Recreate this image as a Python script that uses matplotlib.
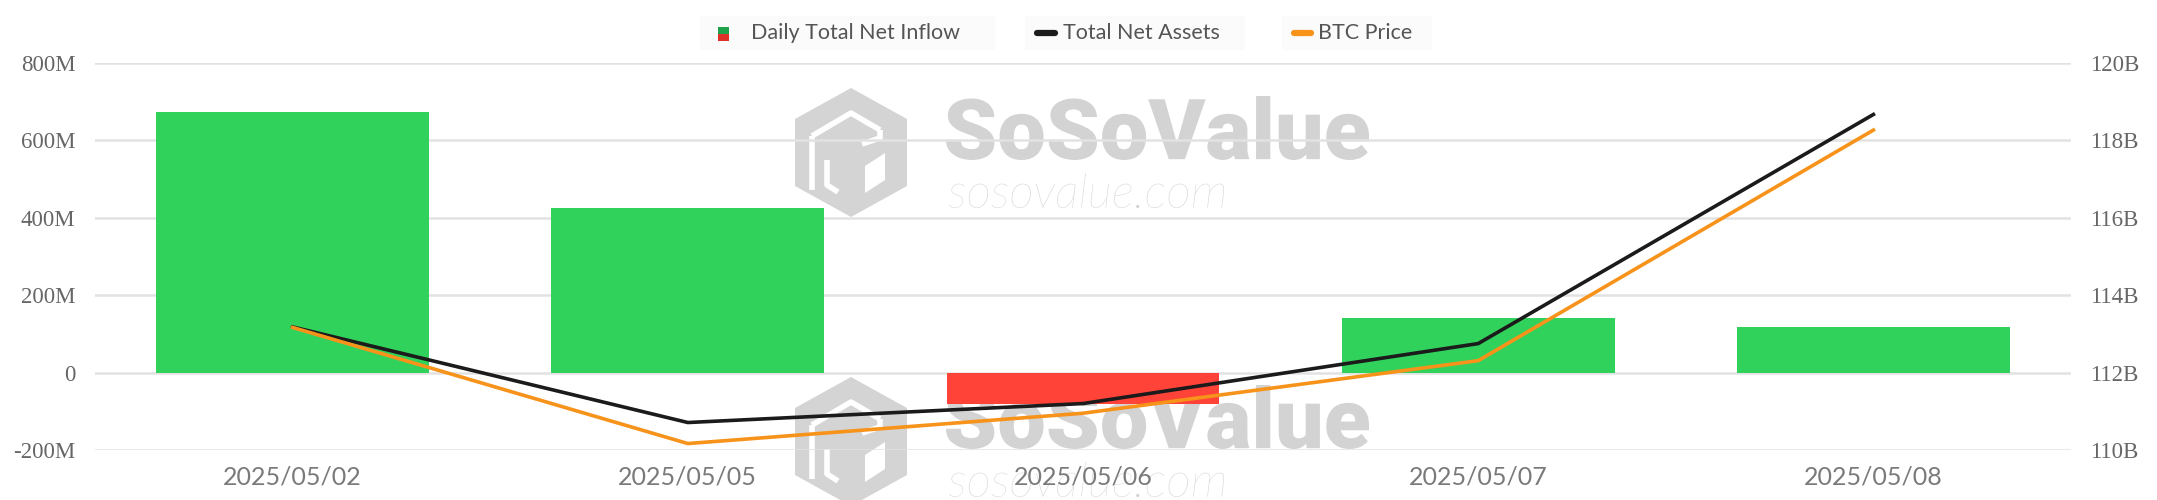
import numpy as np
import matplotlib
matplotlib.use('Agg')
import matplotlib.pyplot as plt
from matplotlib.textpath import TextPath
from matplotlib.font_manager import FontProperties
from matplotlib.patches import PathPatch, Polygon, Rectangle
from matplotlib.transforms import Affine2D
from matplotlib.ticker import FuncFormatter

# data
dates = ['2025/05/02', '2025/05/05', '2025/05/06', '2025/05/07', '2025/05/08']
net_inflow_m = [674, 425, -81, 142, 117]          # USD millions
total_assets_b = [113.18, 110.71, 111.20, 112.75, 118.67]  # USD billions
btc_price = [96800, 93200, 94140, 95770, 102920]   # USD, hidden axis

left_ticks = [-200, 0, 200, 400, 600, 800]
right_ticks = [110, 112, 114, 116, 118, 120]

GREEN = '#31d25c'
RED = '#ff4338'
BLACK = '#1b1b1b'
ORANGE = '#f7931a'
GRID = '#e2e2e2'
W, H = 2157, 500


def fit_text(axb, s, x0, x1, ytop, ybot, prop, color):
    # stretch a text path into a pixel box (y axis of axb points down)
    tp = TextPath((0, 0), s, prop=prop, size=100)
    bb = tp.get_extents()
    sx = (x1 - x0) / bb.width
    sy = (ybot - ytop) / bb.height
    tr = Affine2D().translate(-bb.x0, -bb.y0).scale(sx, -sy).translate(x0, ybot)
    axb.add_patch(PathPatch(tr.transform_path(tp), fc=color, ec='none', zorder=1))


def draw_watermark(axb, dy):
    # hexagon logo
    hexa = [(851, 88), (907, 119), (907, 186), (851, 217), (795, 186), (795, 119)]
    axb.add_patch(Polygon([(x, y + dy) for x, y in hexa], closed=True,
                          fc='#d4d4d4', ec='none', zorder=1))
    # rough inner strokes of the logo
    strokes = [
        [(812, 136), (851, 113), (880, 130)],
        [(880, 130), (880, 138), (862, 144)],
        [(812, 136), (812, 190)],
        [(827, 160), (827, 185), (838, 192)],
    ]
    for st in strokes:
        xs, ys = zip(*st)
        axb.plot(xs, [y + dy for y in ys], color='white', lw=4,
                 solid_capstyle='butt', zorder=1.5)
    axb.add_patch(Polygon([(865, 166 + dy), (885, 153 + dy), (885, 180 + dy), (865, 193 + dy)],
                          closed=True, fc='white', ec='none', zorder=1.5))
    fit_text(axb, 'SoSoValue', 946, 1369, 96 + dy, 160 + dy,
             FontProperties(family='Roboto', weight='black'), '#d3d3d3')
    fit_text(axb, 'sosovalue.com', 949, 1224, 173 + dy, 208 + dy,
             FontProperties(family='Lato', style='italic', weight='light'), '#d0d0d0')


fig = plt.figure(figsize=(W / 100, H / 100), dpi=100)
fig.patch.set_facecolor('white')

# background layer in pixel coordinates: watermark and legend
axb = fig.add_axes([0, 0, 1, 1], zorder=0)
axb.set_xlim(0, W)
axb.set_ylim(H, 0)
axb.axis('off')
draw_watermark(axb, 0)
draw_watermark(axb, 289)

# legend drawn by hand
for x0, x1 in [(700, 995), (1025, 1245), (1282, 1432)]:
    axb.add_patch(Rectangle((x0, 16), x1 - x0, 34, fc='#fbfbfb', ec='none', zorder=1))
axb.add_patch(Rectangle((718, 27), 11, 7, fc='#1fa34a', ec='none', zorder=2))
axb.add_patch(Rectangle((718, 34), 11, 7, fc='#e0302a', ec='none', zorder=2))
axb.plot([1037, 1055], [33, 33], color=BLACK, lw=4.5, solid_capstyle='round', zorder=2)
axb.plot([1294, 1311], [33, 33], color=ORANGE, lw=4.5, solid_capstyle='round', zorder=2)
leg_font = dict(family='Lato', fontsize=15.5, color='#555555', va='center', ha='left', zorder=3)
axb.text(751, 33, 'Daily Total Net Inflow', **leg_font)
axb.text(1063, 33, 'Total Net Assets', **leg_font)
axb.text(1318, 33, 'BTC Price', **leg_font)

# main axes
ax = fig.add_axes([95 / W, 50 / H, (2071 - 95) / W, (450 - 63) / H], zorder=1)
ax.patch.set_alpha(0)
x = np.arange(len(dates))
colors = [GREEN if v >= 0 else RED for v in net_inflow_m]
ax.bar(x, net_inflow_m, width=0.69, color=colors, zorder=3)
ax.set_xlim(-0.5, len(dates) - 0.5)
ax.set_ylim(-200, 800)
ax.set_yticks(left_ticks)
ax.yaxis.set_major_formatter(FuncFormatter(lambda v, p: '0' if v == 0 else f'{int(v)}M'))
ax.set_xticks(x)
ax.set_xticklabels(dates)
ax.grid(axis='y', color=GRID, lw=1.8, zorder=0)
ax.set_axisbelow(True)
for sp in ax.spines.values():
    sp.set_visible(False)
ax.tick_params(axis='y', length=0, pad=14, labelsize=16.5, labelcolor='#666666')
ax.tick_params(axis='x', length=0, pad=11, labelsize=18, labelcolor='#7a7a7a')
for lab in ax.get_yticklabels():
    lab.set_fontfamily('Liberation Serif')
for lab in ax.get_xticklabels():
    lab.set_fontfamily('Lato')

# right axis: total net assets
ax2 = ax.twinx()
ax2.set_zorder(2)
ax2.plot(x, total_assets_b, color=BLACK, lw=2.6, zorder=4)
ax2.set_ylim(110, 120)
ax2.set_yticks(right_ticks)
ax2.set_yticklabels([f'{t}B' for t in right_ticks])
for sp in ax2.spines.values():
    sp.set_visible(False)
ax2.tick_params(axis='y', length=0, pad=14, labelsize=16.5, labelcolor='#666666')
for lab in ax2.get_yticklabels():
    lab.set_fontfamily('Liberation Serif')

# hidden axis: BTC price
ax3 = ax.twinx()
ax3.set_zorder(3)
ax3.plot(x, btc_price, color=ORANGE, lw=2.6, zorder=4)
ax3.set_ylim(93000, 105000)
ax3.axis('off')

fig.savefig('out.png', dpi=100, facecolor='white')
